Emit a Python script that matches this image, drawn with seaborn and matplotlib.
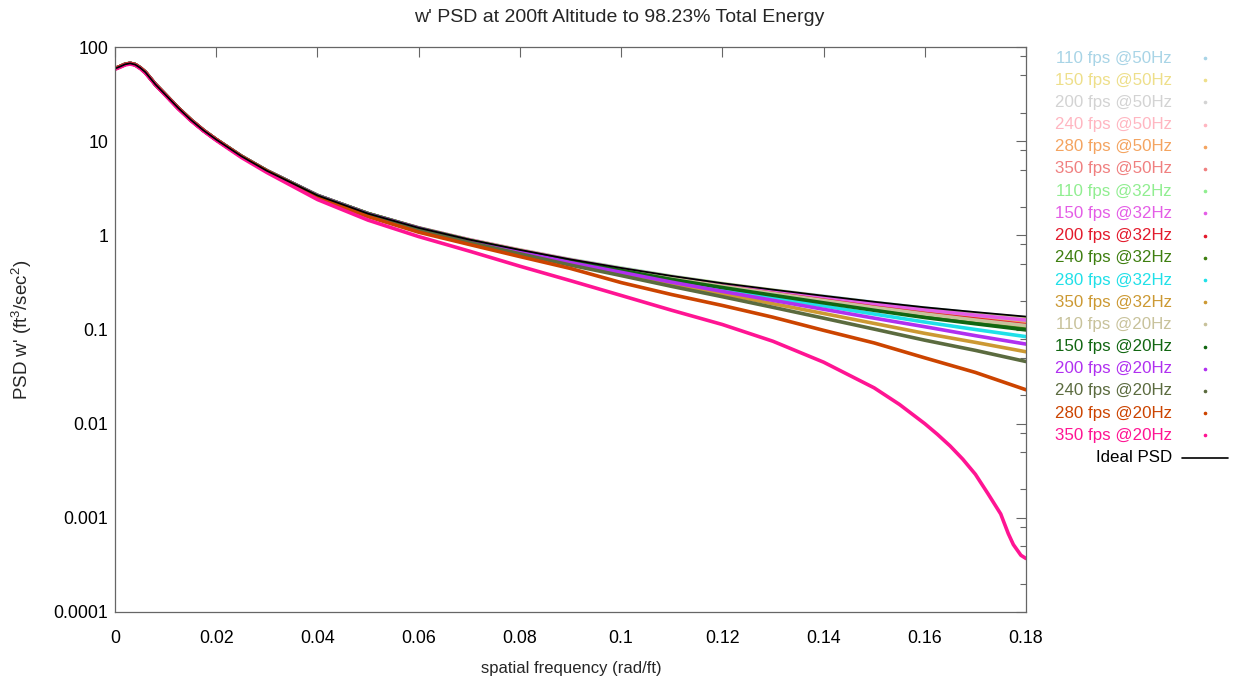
import numpy as np
import pandas as pd
import matplotlib
matplotlib.use("Agg")
import matplotlib.pyplot as plt
import seaborn as sns
from matplotlib.lines import Line2D
from matplotlib.ticker import LogLocator, NullFormatter

TITLE = "w' PSD at 200ft Altitude to 98.23% Total Energy"
XLABEL = "spatial frequency (rad/ft)"
YLABEL = "PSD w' (ft$^{3}$/sec$^{2}$)"

XTICKS = [0, 0.02, 0.04, 0.06, 0.08, 0.10, 0.12, 0.14, 0.16, 0.18]
XTICK_LABELS = ["0", "0.02", "0.04", "0.06", "0.08", "0.1", "0.12", "0.14", "0.16", "0.18"]
YTICKS = [1e-4, 1e-3, 1e-2, 1e-1, 1, 10, 100]
YTICK_LABELS = ["0.0001", "0.001", "0.01", "0.1", "1", "10", "100"]

HEAD_FREQ = [0, 0.001, 0.002, 0.003, 0.004, 0.005, 0.006, 0.008, 0.01, 0.0125, 0.015, 0.0175, 0.02, 0.025, 0.03]
HEAD = [59, 62, 65.5, 67, 65, 60, 54, 40, 31, 22.5, 16.8, 13.0, 10.4, 6.9, 4.85]
TAIL_FREQ = [0.04, 0.05, 0.06, 0.07, 0.08, 0.09, 0.10, 0.11, 0.12, 0.13, 0.14, 0.15, 0.16, 0.17, 0.18]
FREQ = HEAD_FREQ + TAIL_FREQ

IDEAL = HEAD + [2.65, 1.70, 1.20, 0.90, 0.70, 0.555, 0.45, 0.37, 0.31, 0.265, 0.228, 0.197, 0.172, 0.153, 0.137]

S110_50 = HEAD + [2.65, 1.70, 1.20, 0.90, 0.70, 0.555, 0.45, 0.368, 0.307, 0.262, 0.226, 0.194, 0.169, 0.149, 0.133]
S150_50 = HEAD + [2.65, 1.70, 1.20, 0.90, 0.70, 0.552, 0.446, 0.366, 0.307, 0.261, 0.223, 0.192, 0.167, 0.147, 0.130]
S200_50 = HEAD + [2.65, 1.70, 1.20, 0.896, 0.693, 0.549, 0.446, 0.364, 0.304, 0.257, 0.219, 0.187, 0.162, 0.142, 0.126]
S240_50 = HEAD + [2.65, 1.70, 1.20, 0.896, 0.693, 0.547, 0.441, 0.361, 0.301, 0.254, 0.217, 0.184, 0.158, 0.138, 0.122]
S280_50 = HEAD + [2.65, 1.70, 1.19, 0.891, 0.693, 0.547, 0.441, 0.359, 0.298, 0.250, 0.212, 0.179, 0.153, 0.133, 0.116]
S350_50 = HEAD + [2.65, 1.70, 1.19, 0.886, 0.686, 0.538, 0.432, 0.350, 0.288, 0.240, 0.201, 0.167, 0.141, 0.121, 0.104]
S110_32 = HEAD + [2.65, 1.70, 1.20, 0.896, 0.693, 0.549, 0.446, 0.364, 0.304, 0.257, 0.219, 0.187, 0.162, 0.142, 0.126]
S150_32 = HEAD + [2.65, 1.70, 1.20, 0.896, 0.693, 0.547, 0.441, 0.361, 0.301, 0.256, 0.219, 0.187, 0.162, 0.142, 0.126]
S200_32 = HEAD + [2.65, 1.70, 1.19, 0.886, 0.686, 0.538, 0.432, 0.350, 0.288, 0.242, 0.205, 0.173, 0.148, 0.129, 0.112]
S240_32 = HEAD + [2.65, 1.70, 1.19, 0.882, 0.679, 0.532, 0.425, 0.342, 0.282, 0.234, 0.195, 0.163, 0.137, 0.118, 0.102]
S280_32 = HEAD + [2.65, 1.69, 1.18, 0.873, 0.672, 0.522, 0.414, 0.329, 0.267, 0.217, 0.178, 0.146, 0.120, 0.100, 0.084]
S350_32 = HEAD + [2.64, 1.68, 1.16, 0.855, 0.651, 0.497, 0.387, 0.302, 0.239, 0.188, 0.148, 0.116, 0.091, 0.073, 0.058]
S110_20 = HEAD + [2.65, 1.70, 1.19, 0.886, 0.686, 0.538, 0.432, 0.350, 0.288, 0.241, 0.203, 0.171, 0.146, 0.126, 0.110]
S150_20 = HEAD + [2.65, 1.70, 1.19, 0.882, 0.679, 0.530, 0.423, 0.340, 0.279, 0.231, 0.192, 0.160, 0.134, 0.115, 0.099]
S200_20 = HEAD + [2.64, 1.68, 1.18, 0.869, 0.665, 0.513, 0.405, 0.318, 0.254, 0.204, 0.164, 0.132, 0.107, 0.086, 0.070]
S240_20 = HEAD + [2.62, 1.66, 1.15, 0.842, 0.637, 0.483, 0.374, 0.287, 0.223, 0.172, 0.132, 0.101, 0.077, 0.060, 0.0457]
S280_20 = HEAD[:-2] + [6.85, 4.8] + [2.55, 1.58, 1.08, 0.80, 0.595, 0.445, 0.315, 0.235, 0.18, 0.135, 0.098, 0.072, 0.050, 0.035, 0.0229]

PINK_FREQ = HEAD_FREQ + [0.04, 0.05, 0.06, 0.07, 0.08, 0.09, 0.10, 0.11, 0.12, 0.13, 0.14, 0.15, 0.155, 0.16,
                         0.1625, 0.165, 0.1675, 0.17, 0.1725, 0.175, 0.1765, 0.1775, 0.179, 0.18]
S350_20 = [58, 61, 64.5, 66, 64, 59, 53, 39.5, 30.5, 22, 16.5, 12.8, 10.2, 6.7, 4.65,
           2.40, 1.45, 0.97, 0.68, 0.47, 0.33, 0.23, 0.16, 0.113, 0.075, 0.045, 0.024, 0.016, 0.0100,
           0.0077, 0.0058, 0.0042, 0.0029, 0.0018, 0.0011, 0.00068, 0.00052, 0.00040, 0.00037]

LABELS = ["110 fps @50Hz", "150 fps @50Hz", "200 fps @50Hz", "240 fps @50Hz", "280 fps @50Hz", "350 fps @50Hz",
          "110 fps @32Hz", "150 fps @32Hz", "200 fps @32Hz", "240 fps @32Hz", "280 fps @32Hz", "350 fps @32Hz",
          "110 fps @20Hz", "150 fps @20Hz", "200 fps @20Hz", "240 fps @20Hz", "280 fps @20Hz", "350 fps @20Hz"]
COLORS = ["#a8d4e6", "#eedf8a", "#d3d3d3", "#ffb6c1", "#f4a460", "#f08080",
          "#90ee90", "#e45de6", "#e31a2c", "#3f7f10", "#20e0e8", "#cc9933",
          "#c8c29b", "#116611", "#b030f0", "#5b6b3f", "#cc4400", "#ff1493"]
VALUES = [S110_50, S150_50, S200_50, S240_50, S280_50, S350_50,
          S110_32, S150_32, S200_32, S240_32, S280_32, S350_32,
          S110_20, S150_20, S200_20, S240_20, S280_20, S350_20]
IDEAL_LABEL = "Ideal PSD"

rows = []
for lab, vals in zip(LABELS, VALUES):
    fx = PINK_FREQ if lab == "350 fps @20Hz" else FREQ
    for f, v in zip(fx, vals):
        rows.append((lab, f, v))
df = pd.DataFrame(rows, columns=["series", "freq", "psd"])

sns.set_style("white")
plt.rcParams["font.family"] = ["Liberation Sans", "DejaVu Sans"]
plt.rcParams["mathtext.default"] = "regular"

W, H = 1238, 684
fig = plt.figure(figsize=(W / 100, H / 100), dpi=100)
L, R, T, B = 115, 1026, 47, 612
ax = fig.add_axes([L / W, 1 - B / H, (R - L) / W, (B - T) / H])

palette = dict(zip(LABELS, COLORS))
sns.lineplot(data=df, x="freq", y="psd", hue="series", hue_order=LABELS, palette=palette,
             estimator=None, linewidth=2.6, legend=False, ax=ax)
sns.lineplot(x=FREQ, y=IDEAL, color="black", linewidth=1.3, estimator=None, ax=ax)

ax.set_yscale("log")
ax.set_xlim(0, 0.18)
ax.set_ylim(1e-4, 100)
ax.set_xticks(XTICKS)
ax.set_xticklabels(XTICK_LABELS)
ax.set_yticks(YTICKS)
ax.set_yticklabels(YTICK_LABELS)
ax.yaxis.set_minor_locator(LogLocator(base=10, subs=[2, 5, 8]))
ax.yaxis.set_minor_formatter(NullFormatter())
ax.set_xlabel("")
ax.set_ylabel("")
ax.tick_params(which="both", direction="in", top=True, right=True, color="#666666",
               labelcolor="black", labelsize=12.8)
ax.tick_params(which="major", length=7, width=0.8)
ax.tick_params(which="minor", length=4, width=0.8)
ax.tick_params(axis="x", pad=13)
ax.tick_params(axis="y", pad=5)
for sp in ax.spines.values():
    sp.set_color("#666666")
    sp.set_linewidth(0.9)

FS = 12.2
fig.text(619 / W, 1 - 17 / H, TITLE, ha="center", va="center", fontsize=14)
fig.text(571 / W, 1 - 668 / H, XLABEL, ha="center", va="center", fontsize=12)
fig.text(22 / W, 1 - 330 / H, YLABEL, ha="center", va="center", rotation=90, fontsize=13.5)

for i, (lab, col) in enumerate(zip(LABELS, COLORS)):
    yy = 1 - (58 + 22.2 * i) / H
    fig.text(1172 / W, yy, lab, ha="right", va="center", color=col, fontsize=FS)
    fig.add_artist(Line2D([1205 / W], [yy], marker="o", markersize=1.6, color=col,
                          linestyle="none", transform=fig.transFigure))
yy = 1 - 458 / H
fig.text(1172 / W, yy, IDEAL_LABEL, ha="right", va="center", color="black", fontsize=FS)
fig.add_artist(Line2D([1182 / W, 1228 / W], [yy, yy], color="black", linewidth=1.2,
                      transform=fig.transFigure))

fig.savefig("out.png", dpi=100)
